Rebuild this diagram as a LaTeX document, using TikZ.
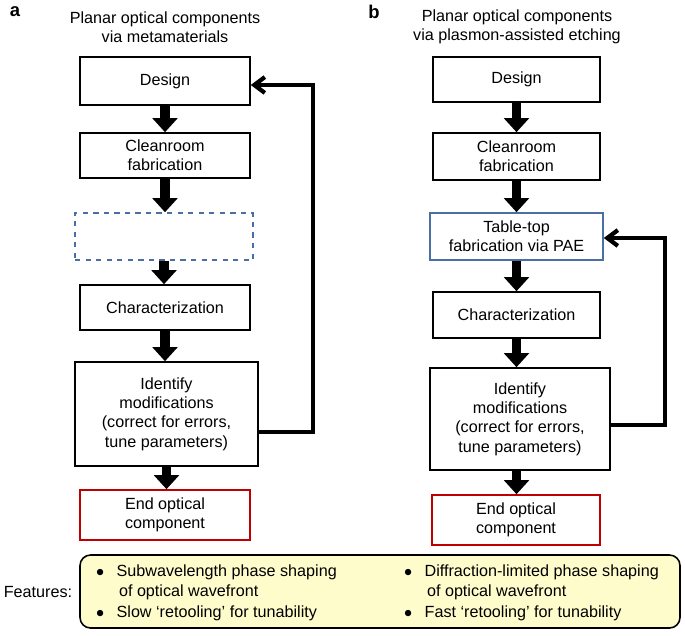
\documentclass[tikz,border=0pt]{standalone}
\usepackage{fontspec}
\setmainfont{Liberation Sans}
\usetikzlibrary{arrows.meta}
\definecolor{bx}{RGB}{75,110,165}
\begin{document}
\begin{tikzpicture}[x=0.02cm,y=-0.02cm,font=\fontsize{9.2pt}{11pt}\selectfont,
 box/.style={draw,line width=0.9pt,minimum width=#1*0.02cm,align=center,inner sep=0pt},
 blk/.style={line width=5.5pt,-{Triangle[width=14pt,length=8pt]}},
 fb/.style={line width=2.4pt,-{Straight Barb[width=9pt,length=6pt]}},
 red/.style={draw=red!75!black},blu/.style={draw=bx}]
\useasboundingbox (0,0) rectangle (685,635);
\node[font=\bfseries\fontsize{10.5pt}{12pt}\selectfont] (la) at (15,12) {a};
\node[font=\bfseries\fontsize{10.5pt}{12pt}\selectfont] (lb) at (374,12) {b};
\node[align=center] (ta) at (165,27) {Planar optical components\\via metamaterials};
\node[align=center] (tb) at (517,27) {Planar optical components\\via plasmon-assisted etching};
% left
\node[box=170,minimum height=48*0.02cm] (a1) at (165,81) {Design};
\node[box=170,minimum height=45*0.02cm] (a2) at (165,155.5) {Cleanroom\\fabrication};
\node[box=178,minimum height=47*0.02cm,blu,dashed] (a3) at (164,236.5) {};
\node[box=170,minimum height=45*0.02cm] (a4) at (165,307.5) {Characterization};
\node[box=183,minimum height=104*0.02cm] (a5) at (166.5,414) {Identify\\modifications\\(correct for errors,\\tune parameters)};
\node[box=170,minimum height=50*0.02cm,red] (a6) at (165,515) {End optical\\component};
\foreach \p/\q in {a1/a2,a2/a3,a3/a4,a4/a5,a5/a6}
 \draw[blk] (\p.south) -- (\p.south |- \q.north);
\coordinate (ca) at (313,432);
\draw[fb] (a5.east |- ca) -- (ca) -- (313,85) -- (a1.east |- 0,85);
% right
\node[box=167,minimum height=45*0.02cm] (b1) at (516.5,79.5) {Design};
\node[box=167,minimum height=47*0.02cm] (b2) at (516.5,156.5) {Cleanroom\\fabrication};
\node[box=173,minimum height=47*0.02cm,blu] (b3) at (516.5,236.5) {Table-top\\fabrication via PAE};
\node[box=167,minimum height=46*0.02cm] (b4) at (516.5,315) {Characterization};
\node[box=180,minimum height=102*0.02cm] (b5) at (520,419) {Identify\\modifications\\(correct for errors,\\tune parameters)};
\node[box=168,minimum height=50*0.02cm,red] (b6) at (516,520) {End optical\\component};
\foreach \p/\q in {b1/b2,b2/b3,b3/b4,b4/b5,b5/b6}
 \draw[blk] (\p.south -| b1.south) -- (\q.north -| b1.south);
\coordinate (cb) at (665,425);
\draw[fb] (b5.east |- cb) -- (cb) -- (665,238) -- (b3.east |- 0,238);
% features
\node[draw,line width=0.9pt,rounded corners=6pt,fill=yellow!20,minimum width=600*0.02cm,minimum height=73*0.02cm] (fbx) at (380,591.5) {};
\node (ft) at (38,592) {Features:};
\node[align=left,anchor=north west] (f1) at (90,559) {$\bullet$\hspace{7pt}Subwavelength phase shaping\\\hspace{13pt}of optical wavefront};
\node[align=left,anchor=north west] (f2) at (90,600) {$\bullet$\hspace{7pt}Slow `retooling' for tunability};
\node[align=left,anchor=north west] (f3) at (398,559) {$\bullet$\hspace{7pt}Diffraction-limited phase shaping\\\hspace{13pt}of optical wavefront};
\node[align=left,anchor=north west] (f4) at (398,600) {$\bullet$\hspace{7pt}Fast `retooling' for tunability};
\end{tikzpicture}
\end{document}
